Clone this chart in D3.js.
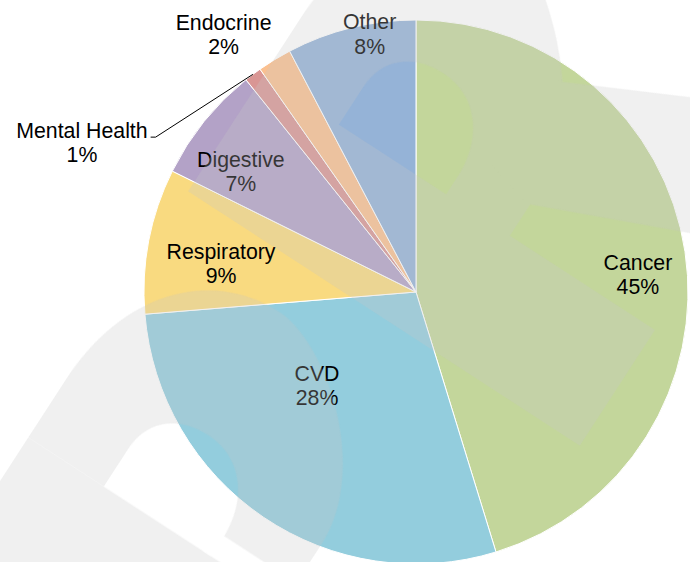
<!DOCTYPE html>
<html>
<head>
<meta charset="utf-8">
<script src="https://cdn.jsdelivr.net/npm/d3@7/dist/d3.min.js"></script>
<style>
  body { margin: 0; background: #fff; }
  svg { display: block; }
  .label { font-family: "Liberation Sans", Arial, sans-serif; font-size: 21.3px; fill: #000; }
</style>
</head>
<body>
<script>
// share of deaths by cause (%)
var categories = ["Cancer", "CVD", "Respiratory", "Digestive", "Mental Health", "Endocrine", "Other"];
var shares = [45.25, 28.45, 8.63, 6.92, 1.03, 2.03, 7.69];
var sliceColours = ["#c3d69b", "#93cddd", "#f9da80", "#b3a2c7", "#d99694", "#fac090", "#95b3d7"];

// label spots: [angle from 12 o'clock in degrees, distance as fraction of radius]
var labelSpots = {
    "Cancer": [84.3, 0.82],
    "CVD": [228.1, 0.489],
    "Respiratory": [279.6, 0.727],
    "Digestive": [305.6, 0.792],
    "Mental Health": [294.8, 1.353],
    "Endocrine": [323.7, 1.195],
    "Other": [350, 0.981]
};

function init()
{
    var width = 690, height = 562,
        cx = 416, cy = 292, radius = 272;

    var svg = d3.select("body").append("svg")
        .attr("width", width)
        .attr("height", height);

    var data = categories.map(function(c, i) { return {name: c, share: shares[i]}; });

    var pie = d3.pie()
        .sort(null)
        .value(function(d) { return d.share; });

    var arc = d3.arc().innerRadius(0).outerRadius(radius),
        rim = d3.arc().innerRadius(radius).outerRadius(radius);

    var color = d3.scaleOrdinal().domain(categories).range(sliceColours);

    var g = svg.append("g").attr("transform", "translate(" + cx + "," + cy + ")");

    // slices
    g.selectAll(".slice")
        .data(pie(data))
        .enter().append("path")
            .attr("class", "slice")
            .attr("d", arc)
            .attr("fill", function(d) { return color(d.data.name); })
            .attr("stroke", "#fff")
            .attr("stroke-width", 1);

    // labels: name + rounded percent
    var label = g.selectAll(".label")
        .data(pie(data))
        .enter().append("text")
            .attr("class", "label")
            .attr("text-anchor", "middle")
            .each(function(d) {
                var s = labelSpots[d.data.name],
                    a = s[0] * Math.PI / 180,
                    r = s[1] * radius;
                d.lx = r * Math.sin(a);
                d.ly = -r * Math.cos(a);
            });

    label.append("tspan")
        .attr("x", function(d) { return d.lx; })
        .attr("y", function(d) { return d.ly; })
        .text(function(d) { return d.data.name; });

    label.append("tspan")
        .attr("x", function(d) { return d.lx; })
        .attr("dy", 24.3)
        .text(function(d) { return Math.round(d.data.share) + "%"; });

    // leader line for the tiny slice
    label.filter(function(d) { return d.data.name == "Mental Health"; })
        .each(function(d) {
            var w = this.firstChild.getComputedTextLength(),
                p = rim.centroid(d),
                x0 = d.lx + w / 2 + 3;
            g.append("polyline")
                .attr("points", [[x0, d.ly - 0.5], [x0 + 5, d.ly - 0.5], p].join(" "))
                .attr("fill", "none")
                .attr("stroke", "#000")
                .attr("stroke-width", 1);
        });

    // faint logo watermark laid over the chart
    var defs = svg.append("defs");
    var mask = defs.append("mask")
        .attr("id", "wm-holes")
        .attr("maskUnits", "userSpaceOnUse")
        .attr("x", -3000).attr("y", -3000)
        .attr("width", 6000).attr("height", 6000);
    mask.append("rect")
        .attr("x", -3000).attr("y", -3000)
        .attr("width", 6000).attr("height", 6000)
        .attr("fill", "#fff");

    var holePath = "M352,-80 L352,-125 C352,-158 375,-180 412,-180 C450,-180 478,-150 480,-105 L480,-80 Z",
        bowlPath = "M262,-80 L262,-150 C262,-250 320,-322 405,-322 C450,-322 556,-215 556,-150 L556,-80 Z",
        bowlPathLow = "M262,-80 L262,-150 C262,-250 320,-322 405,-322 C460,-322 566,-240 566,-150 L566,-80 Z",
        legPath = "M500,-230 L521,-240 L800,-377 L800,-220 L553,-116 L500,-130 Z",
        shift = 431.5;

    mask.append("path").attr("d", holePath).attr("fill", "#000");
    mask.append("g").attr("transform", "translate(0," + shift + ")")
        .call(function(m) {
            m.append("path").attr("d", holePath).attr("fill", "#000");
            m.append("rect").attr("x", 470).attr("y", -104).attr("width", 600).attr("height", 24).attr("fill", "#000");
        });

    var wm = svg.append("g")
        .attr("transform", "rotate(33)")
        .append("g")
            .attr("mask", "url(#wm-holes)")
            .attr("opacity", 0.27)
            .attr("fill", "#c4c4c4");

    // upper letter
    wm.append("rect").attr("x", 262).attr("y", -80).attr("width", 467).attr("height", 138);
    wm.append("path").attr("d", bowlPath);
    wm.append("path").attr("d", legPath);

    // lower letter
    var low = wm.append("g").attr("transform", "translate(0," + shift + ")");
    low.append("rect").attr("x", 262).attr("y", -80).attr("width", 800).attr("height", 138);
    low.append("path").attr("d", bowlPathLow);
}

init();
</script>
</body>
</html>
